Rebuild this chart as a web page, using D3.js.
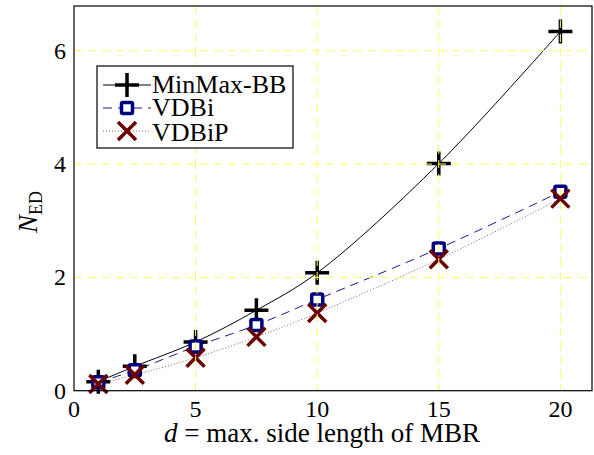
<!DOCTYPE html>
<html>
<head>
<meta charset="utf-8">
<script src="https://cdn.jsdelivr.net/npm/d3@7"></script>
</head>
<body style="margin:0">
<div id="chart"></div>
<script>
var width = 594;
var height = 455;
var FONT = "'Liberation Serif'";

// data
var sideLength = [1, 2.5, 5, 7.5, 10, 15, 20];
var minMaxBB = [0.16, 0.43, 0.86, 1.42, 2.08, 4.01, 6.34];
var vdbi = [0.15, 0.36, 0.78, 1.16, 1.61, 2.51, 3.51];
var vdbip = [0.12, 0.28, 0.58, 0.95, 1.37, 2.32, 3.39];

var xTicks = [0, 5, 10, 15, 20];
var yTicks = [0, 2, 4, 6];
var gridX = [5, 10, 15, 20];
var gridY = [2, 4, 6];

var seriesNames = ["MinMax-BB", "VDBi", "VDBiP"];

var svg = d3.select("#chart").append("svg")
  .attr("width", width)
  .attr("height", height)
  .style("font-family", FONT);

var x = d3.scaleLinear().domain([0, 21.3]).range([74, 592]);
var y = d3.scaleLinear().domain([0, 6.79]).range([390.7, 6]);

var series = [
  { name: seriesNames[0], values: minMaxBB, stroke: "#000", dash: null, marker: "plus", color: "#000" },
  { name: seriesNames[1], values: vdbi, stroke: "#1a1a8c", dash: "9,6", marker: "square", color: "#00007f" },
  { name: seriesNames[2], values: vdbip, stroke: "#a05a5a", dash: "1,2", marker: "cross", color: "#6b0000" }
];

function label(parent, x0, y0, size, txt) {
  return parent.append("text")
    .attr("x", x0).attr("y", y0)
    .attr("font-size", size)
    .style("font-family", FONT)
    .text(txt);
}

function drawMarker(g, type, color) {
  if (type == "plus") {
    g.append("path").attr("d", "M-12,0H12M0,-12V12")
      .attr("stroke", color).attr("stroke-width", 3.5).attr("fill", "none");
  } else if (type == "square") {
    g.append("rect").attr("x", -5.5).attr("y", -5.5).attr("width", 11).attr("height", 11)
      .attr("rx", 1.5)
      .attr("stroke", color).attr("stroke-width", 3.5).attr("fill", "#fff");
  } else {
    g.append("path").attr("d", "M-9,-9L9,9M-9,9L9,-9")
      .attr("stroke", color).attr("stroke-width", 3.5).attr("fill", "none");
  }
}

// tick labels
xTicks.forEach(function(t) {
  label(svg, x(t), 417, 24, t).attr("text-anchor", "middle");
});
yTicks.forEach(function(t) {
  label(svg, 66, y(t) + 8, 24, t).attr("text-anchor", "end");
});

// axis labels
var xl = label(svg, 322, 442, 27, "").attr("text-anchor", "middle");
xl.append("tspan").style("font-style", "italic").text("d");
xl.append("tspan").text(" = max. side length of MBR");

var yl = label(svg, 0, 0, 27, "")
  .attr("transform", "translate(37,212) rotate(-90)")
  .attr("text-anchor", "middle");
yl.append("tspan").style("font-style", "italic").text("N");
yl.append("tspan").attr("font-size", 18).attr("dy", 5).text("ED");

var line = d3.line()
  .x(function(d, i){ return x(sideLength[i]); })
  .y(function(d){ return y(d); })
  .curve(d3.curveCatmullRom);

var plot = svg.append("g");

series.forEach(function(s) {
  plot.append("path")
    .datum(s.values)
    .attr("d", line)
    .attr("fill", "none")
    .attr("stroke", s.stroke)
    .attr("stroke-width", 1)
    .attr("stroke-dasharray", s.dash);
});

series.forEach(function(s) {
  s.values.forEach(function(v, i) {
    var g = plot.append("g")
      .attr("transform", "translate(" + x(sideLength[i]) + "," + y(v) + ")");
    drawMarker(g, s.marker, s.color);
  });
});

// grid sits on top of the marks in the original
var grid = svg.append("g")
  .attr("stroke", "#ffff55")
  .attr("stroke-width", 1)
  .attr("stroke-dasharray", "8,6");

gridX.forEach(function(t) {
  grid.append("line")
    .attr("x1", x(t)).attr("x2", x(t))
    .attr("y1", y.range()[1]).attr("y2", y.range()[0]);
});
gridY.forEach(function(t) {
  grid.append("line")
    .attr("y1", y(t)).attr("y2", y(t))
    .attr("x1", x.range()[0]).attr("x2", x.range()[1]);
});

// frame
svg.append("rect")
  .attr("x", x.range()[0]).attr("y", y.range()[1])
  .attr("width", x.range()[1] - x.range()[0])
  .attr("height", y.range()[0] - y.range()[1])
  .attr("fill", "none").attr("stroke", "#000").attr("stroke-width", 1.2);

// legend
var legend = svg.append("g");
legend.append("rect")
  .attr("x", 97).attr("y", 66).attr("width", 196).attr("height", 82)
  .attr("fill", "#fff").attr("stroke", "#000").attr("stroke-width", 1.2);

var rowY = [85, 108, 131];
var rowBase = [93, 116, 141];

series.forEach(function(s, i) {
  legend.append("line")
    .attr("x1", 103).attr("x2", 151)
    .attr("y1", rowY[i]).attr("y2", rowY[i])
    .attr("stroke", s.stroke).attr("stroke-width", 1)
    .attr("stroke-dasharray", s.dash);
  var g = legend.append("g").attr("transform", "translate(127," + rowY[i] + ")");
  drawMarker(g, s.marker, s.color);
  label(legend, 152, rowBase[i], 26, s.name);
});
</script>
</body>
</html>
